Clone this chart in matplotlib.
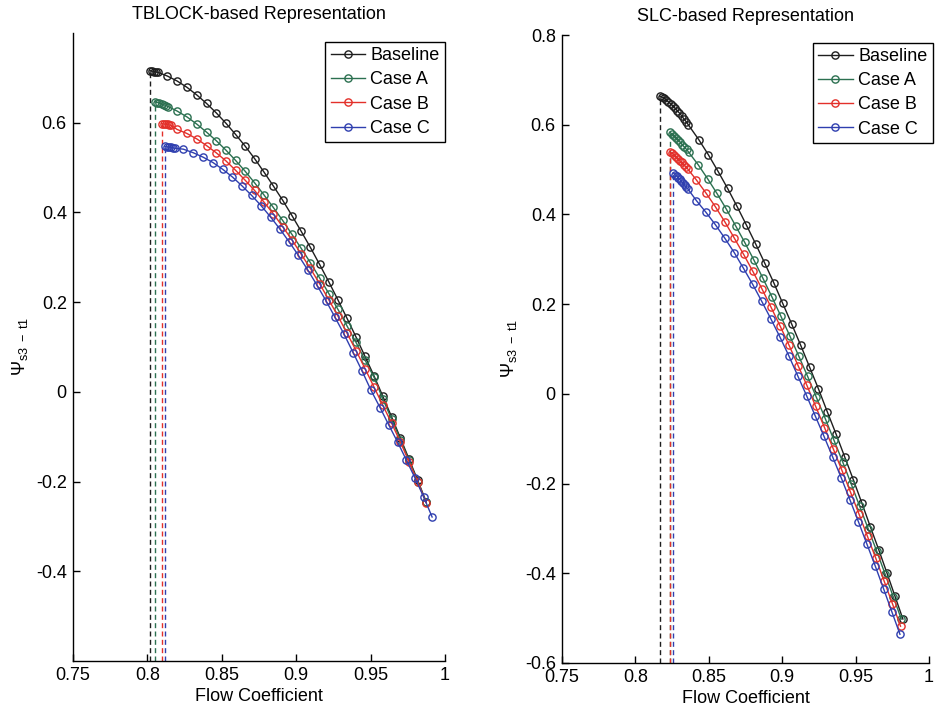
import matplotlib
matplotlib.use("Agg")
import matplotlib.pyplot as plt

plt.rcParams['font.family'] = ['Liberation Sans', 'DejaVu Sans']
plt.rcParams['mathtext.fontset'] = 'custom'
plt.rcParams['mathtext.rm'] = 'Liberation Sans'
plt.rcParams['mathtext.it'] = 'Liberation Sans:italic'

# ---------------- TBLOCK-based representation ----------------
tb_base_x = [0.8017, 0.8031, 0.8045, 0.8059, 0.8073, 0.8134, 0.8199, 0.8265, 0.8331, 0.8397,
             0.8462, 0.8527, 0.8592, 0.8656, 0.8720, 0.8783, 0.8846, 0.8909, 0.8971, 0.9033,
             0.9095, 0.9157, 0.9219, 0.9280, 0.9341, 0.9402, 0.9462, 0.9522, 0.9582, 0.9641,
             0.9700, 0.9758, 0.9816, 0.9873]
tb_base_y = [0.716, 0.715, 0.714, 0.713, 0.712, 0.704, 0.693, 0.679, 0.662, 0.643,
             0.622, 0.599, 0.574, 0.548, 0.520, 0.490, 0.459, 0.427, 0.393, 0.358,
             0.322, 0.284, 0.245, 0.205, 0.164, 0.122, 0.079, 0.036, -0.010, -0.056,
             -0.103, -0.150, -0.197, -0.245]

tb_a_x = [0.8051, 0.8066, 0.8081, 0.8096, 0.8111, 0.8125, 0.8140, 0.8199, 0.8265, 0.8331,
          0.8397, 0.8462, 0.8527, 0.8592, 0.8656, 0.8720, 0.8783, 0.8846, 0.8909, 0.8971,
          0.9033, 0.9095, 0.9157, 0.9219, 0.9280, 0.9341, 0.9402, 0.9462, 0.9522, 0.9582,
          0.9641, 0.9700, 0.9758, 0.9816, 0.9873]
tb_a_y = [0.647, 0.645, 0.644, 0.642, 0.640, 0.638, 0.636, 0.626, 0.613, 0.597,
          0.579, 0.560, 0.539, 0.516, 0.492, 0.466, 0.439, 0.411, 0.382, 0.351,
          0.320, 0.288, 0.254, 0.219, 0.184, 0.147, 0.110, 0.071, 0.033, -0.016,
          -0.061, -0.107, -0.153, -0.200, -0.246]

tb_b_x = [0.8096, 0.8109, 0.8122, 0.8135, 0.8148, 0.8160, 0.8199, 0.8265, 0.8331, 0.8397,
          0.8462, 0.8527, 0.8592, 0.8656, 0.8720, 0.8783, 0.8846, 0.8909, 0.8971, 0.9033,
          0.9095, 0.9157, 0.9219, 0.9280, 0.9341, 0.9402, 0.9462, 0.9522, 0.9582, 0.9641,
          0.9700, 0.9758, 0.9816, 0.9873]
tb_b_y = [0.598, 0.597, 0.597, 0.596, 0.595, 0.594, 0.585, 0.576, 0.564, 0.549,
          0.533, 0.515, 0.494, 0.472, 0.449, 0.423, 0.397, 0.368, 0.339, 0.307,
          0.275, 0.241, 0.205, 0.169, 0.131, 0.092, 0.052, 0.011, -0.030, -0.070,
          -0.112, -0.156, -0.201, -0.247]

tb_c_x = [0.8118, 0.8131, 0.8144, 0.8157, 0.8170, 0.8185, 0.8241, 0.8308, 0.8375, 0.8441,
          0.8506, 0.8571, 0.8636, 0.8700, 0.8764, 0.8827, 0.8890, 0.8953, 0.9015, 0.9077,
          0.9139, 0.9200, 0.9261, 0.9322, 0.9383, 0.9443, 0.9503, 0.9563, 0.9622, 0.9681,
          0.9740, 0.9798, 0.9856, 0.9913]
tb_c_y = [0.547, 0.546, 0.546, 0.545, 0.544, 0.543, 0.541, 0.533, 0.523, 0.511,
          0.496, 0.479, 0.459, 0.438, 0.415, 0.390, 0.363, 0.334, 0.304, 0.272,
          0.238, 0.203, 0.166, 0.128, 0.087, 0.046, 0.003, -0.035, -0.074, -0.112,
          -0.152, -0.192, -0.234, -0.279]

# ---------------- SLC-based representation ----------------
slc_base_x = [0.8165, 0.8180, 0.8195, 0.8210, 0.8225, 0.8240, 0.8255, 0.8270, 0.8285, 0.8300,
              0.8315, 0.8330, 0.8345, 0.8360, 0.8431, 0.8497, 0.8563, 0.8628, 0.8692, 0.8755,
              0.8818, 0.8880, 0.8942, 0.9003, 0.9064, 0.9125, 0.9186, 0.9247, 0.9307, 0.9366,
              0.9425, 0.9484, 0.9542, 0.9600, 0.9657, 0.9713, 0.9768, 0.9822]
slc_base_y = [0.664, 0.662, 0.659, 0.655, 0.651, 0.647, 0.642, 0.637, 0.631, 0.626,
              0.620, 0.613, 0.607, 0.600, 0.567, 0.533, 0.496, 0.458, 0.418, 0.377,
              0.335, 0.292, 0.248, 0.202, 0.156, 0.109, 0.060, 0.011, -0.040, -0.089,
              -0.140, -0.191, -0.243, -0.296, -0.347, -0.399, -0.451, -0.502]

slc_a_x = [0.8236, 0.8250, 0.8264, 0.8278, 0.8292, 0.8306, 0.8320, 0.8334, 0.8348, 0.8362,
           0.8427, 0.8491, 0.8555, 0.8619, 0.8682, 0.8744, 0.8806, 0.8868, 0.8930, 0.8991,
           0.9052, 0.9113, 0.9173, 0.9233, 0.9293, 0.9352, 0.9411, 0.9470, 0.9528, 0.9586,
           0.9643, 0.9700, 0.9756, 0.9811]
slc_a_y = [0.583, 0.579, 0.575, 0.570, 0.565, 0.561, 0.555, 0.550, 0.545, 0.539,
           0.511, 0.480, 0.447, 0.412, 0.375, 0.338, 0.299, 0.258, 0.216, 0.173,
           0.129, 0.084, 0.039, -0.008, -0.055, -0.103, -0.151, -0.201, -0.251, -0.301,
           -0.350, -0.401, -0.452, -0.502]

slc_b_x = [0.8238, 0.8251, 0.8264, 0.8277, 0.8290, 0.8303, 0.8316, 0.8329, 0.8342, 0.8355,
           0.8415, 0.8480, 0.8545, 0.8610, 0.8674, 0.8737, 0.8800, 0.8862, 0.8924, 0.8986,
           0.9047, 0.9108, 0.9168, 0.9228, 0.9288, 0.9347, 0.9406, 0.9465, 0.9523, 0.9581,
           0.9638, 0.9695, 0.9751, 0.9806]
slc_b_y = [0.539, 0.536, 0.532, 0.528, 0.524, 0.520, 0.516, 0.511, 0.506, 0.502,
           0.477, 0.448, 0.417, 0.383, 0.347, 0.311, 0.273, 0.234, 0.193, 0.151,
           0.108, 0.063, 0.019, -0.028, -0.075, -0.122, -0.170, -0.219, -0.268, -0.318,
           -0.367, -0.418, -0.468, -0.518]

slc_c_x = [0.8258, 0.8269, 0.8280, 0.8291, 0.8302, 0.8313, 0.8324, 0.8335, 0.8346, 0.8357,
           0.8415, 0.8480, 0.8545, 0.8609, 0.8673, 0.8736, 0.8799, 0.8861, 0.8923, 0.8984,
           0.9045, 0.9106, 0.9166, 0.9226, 0.9285, 0.9344, 0.9403, 0.9461, 0.9519, 0.9577,
           0.9634, 0.9691, 0.9747, 0.9802]
slc_c_y = [0.493, 0.489, 0.486, 0.482, 0.478, 0.474, 0.470, 0.465, 0.461, 0.457,
           0.431, 0.405, 0.377, 0.347, 0.315, 0.280, 0.244, 0.206, 0.167, 0.127,
           0.085, 0.040, -0.004, -0.050, -0.095, -0.141, -0.188, -0.236, -0.285, -0.335,
           -0.384, -0.435, -0.486, -0.536]

series_names = ['Baseline', 'Case A', 'Case B', 'Case C']
series_colors = ['#1e1e1e', '#2b7050', '#e3302a', '#2f3faf']

x_ticks = [0.75, 0.8, 0.85, 0.9, 0.95, 1.0]
x_ticklabels = ['0.75', '0.8', '0.85', '0.9', '0.95', '1']
tb_yticks = [-0.4, -0.2, 0.0, 0.2, 0.4, 0.6]
tb_yticklabels = ['-0.4', '-0.2', '0', '0.2', '0.4', '0.6']
slc_yticks = [-0.6, -0.4, -0.2, 0.0, 0.2, 0.4, 0.6, 0.8]
slc_yticklabels = ['-0.6', '-0.4', '-0.2', '0', '0.2', '0.4', '0.6', '0.8']

X_RANGE = (0.75, 1.0)
Y_RANGE = (-0.6, 0.8)


def draw_panel(ax, curves, title, yticks, yticklabels, legend_anchor):
    for (xs, ys), name, col in zip(curves, series_names, series_colors):
        ax.plot(xs, ys, '-o', color=col, lw=1.0, ms=5.2, mfc='none', mec=col,
                mew=1.0, label=name, zorder=3)
    # stall-limit markers: dashed drop from the first point of each curve
    for (xs, ys), col in zip(curves, series_colors):
        ax.plot([xs[0], xs[0]], [Y_RANGE[0], ys[0]], color=col, lw=1.0,
                ls=(0, (3.6, 2.4)), zorder=2)

    ax.set_xlim(*X_RANGE)
    ax.set_ylim(*Y_RANGE)
    ax.set_xticks(x_ticks)
    ax.set_xticklabels(x_ticklabels)
    ax.set_yticks(yticks)
    ax.set_yticklabels(yticklabels)
    for side in ('top', 'right'):
        ax.spines[side].set_visible(False)
    for side in ('left', 'bottom'):
        ax.spines[side].set_linewidth(1.0)
    ax.tick_params(direction='in', length=5, width=1.0, labelsize=13, pad=4.5)

    ax.set_title(title, fontsize=13, pad=10)
    ax.set_xlabel('Flow Coefficient', fontsize=13, labelpad=3)
    ax.set_ylabel(r'$\Psi_{\mathrm{s3\ -\ t1}}$', fontsize=13, labelpad=4)

    leg = ax.legend(loc='upper right', bbox_to_anchor=legend_anchor, borderaxespad=0,
                    fancybox=False, edgecolor='black', framealpha=1, fontsize=13,
                    handlelength=1.9, handletextpad=0.3, labelspacing=0.4,
                    borderpad=0.3)
    leg.get_frame().set_linewidth(1.0)


fig = plt.figure(figsize=(9.35, 7.09), dpi=100)
ax1 = fig.add_axes([0.0781, 0.0677, 0.3979, 0.8858])
ax2 = fig.add_axes([0.6011, 0.0649, 0.3925, 0.8857])

draw_panel(ax1,
           [(tb_base_x, tb_base_y), (tb_a_x, tb_a_y), (tb_b_x, tb_b_y), (tb_c_x, tb_c_y)],
           'TBLOCK-based Representation', tb_yticks, tb_yticklabels, (1.0, 0.986))
draw_panel(ax2,
           [(slc_base_x, slc_base_y), (slc_a_x, slc_a_y), (slc_b_x, slc_b_y), (slc_c_x, slc_c_y)],
           'SLC-based Representation', slc_yticks, slc_yticklabels, (1.01, 0.988))

fig.savefig('out.png', dpi=100)
